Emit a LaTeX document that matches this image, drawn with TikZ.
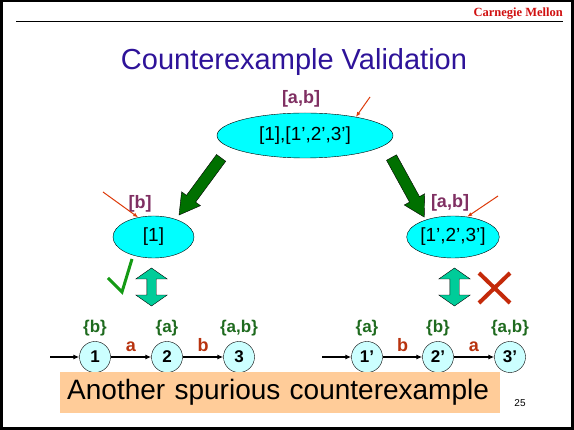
\documentclass[tikz,border=0pt]{standalone}
\usepackage{fontspec}
\setmainfont{Liberation Sans}
\newfontfamily\cmuserif{Liberation Serif}
\usetikzlibrary{positioning,arrows.meta,shapes.geometric,shapes.arrows}
\definecolor{titleblue}{HTML}{2E1399}
\definecolor{cmured}{HTML}{D01010}
\definecolor{abscyan}{HTML}{00FFFF}
\definecolor{statecyan}{HTML}{CCFFFF}
\definecolor{labpurple}{HTML}{7F2F62}
\definecolor{setgreen}{HTML}{1F6B1F}
\definecolor{edgered}{HTML}{B8330F}
\definecolor{ptrred}{HTML}{DD3A0A}
\definecolor{refgreen}{HTML}{007000}
\definecolor{simteal}{HTML}{00CC99}
\definecolor{checkgreen}{HTML}{149A14}
\definecolor{crossred}{HTML}{C42A0A}
\definecolor{notepeach}{HTML}{FFCC99}
\tikzset{
  absnode/.style={ellipse,draw,thin,fill=abscyan,inner sep=0pt,
                  font=\fontsize{19}{19}\selectfont},
  abslab/.style={font=\fontsize{18}{18}\selectfont\bfseries,text=labpurple},
  ptr/.style={draw=ptrred,line width=1pt,-{Latex[length=5pt,width=4pt]}},
  refine/.style={single arrow,draw,thin,fill=refgreen,inner xsep=0pt,inner ysep=5.5pt,
                 single arrow head extend=6pt,single arrow tip angle=60},
  simrel/.style={double arrow,draw,thin,fill=simteal,inner xsep=0pt,inner ysep=4.5pt,
                 rotate=90,minimum height=38pt,
                 double arrow head extend=11pt,double arrow tip angle=110},
  state/.style={circle,draw,thin,fill=statecyan,minimum size=31pt,inner sep=0pt,
                font=\fontsize{17}{17}\selectfont\bfseries},
  setlab/.style={font=\fontsize{17}{17}\selectfont\bfseries,text=setgreen},
  trans/.style={draw,line width=1.1pt,-{Latex[length=6pt,width=5pt]}},
  edgelab/.style={font=\fontsize{18}{18}\selectfont\bfseries,text=edgered},
}
\begin{document}
\begin{tikzpicture}[x=1pt,y=-1pt]
  \useasboundingbox (0,0) rectangle (574,430);
  % ===== slide frame and header =====
  \draw[line width=2.5pt] (1.5,1.25) rectangle (572.5,428.5);
  \draw[thin] (16,21) -- (563,21);
  \node[anchor=base east,inner sep=0pt,text=cmured,
        font=\cmuserif\fontsize{12.5}{12.5}\selectfont\bfseries] (cmu) at (563,17){Carnegie Mellon};
  \node[anchor=base,inner sep=0pt,text=titleblue,font=\fontsize{29}{29}\selectfont]
       (title) at (294,70){Counterexample Validation};

  % ===== abstract counterexample and its splits =====
  \node[absnode,minimum width=176pt,minimum height=45pt] (top) at (305,135.5){[1],[1’,2’,3’]};
  \node[abslab] (toplab) at (301,99){[a,b]};
  \coordinate (topptr) at (370,97);
  \draw[ptr] (topptr) -- (top.20);

  \node[absnode,minimum width=81pt,minimum height=42pt] (left) at (153.5,237){[1]};
  \node[abslab] (leftlab) at (140,204){[b]};
  \coordinate (leftptr) at (103,192);
  \draw[ptr] (leftptr) -- (left.128);

  \node[absnode,minimum width=82pt,minimum height=42pt] (right) at (453,237){[1’,2’,3’]};
  \node[abslab] (rightlab) at (450,203){[a,b]};
  \coordinate (rightptr) at (498,196);
  \draw[ptr] (rightptr) -- (right.55);

  % fat arrows top -> left / right
  \node[refine,minimum height=71pt,rotate=233.6] (refl) at (203,182.5){};
  \node[refine,minimum height=68pt,rotate=-61.2] (refr) at (405.5,183){};

  % ===== concrete check =====
  \node[simrel] (siml) at (151.5,287){};
  \node[simrel] (simr) at (454.5,287){};
  \draw[checkgreen,line width=3pt] (108,278) -- (122,292) -- (132,259);
  \draw[crossred,line width=4pt] (479,273) -- (510,303) (510,273) -- (479,303);

  % ===== left concrete path =====
  \node[state] (s1) at (95,357){1};
  \node[state] (s2) at (167,357){2};
  \node[state] (s3) at (239,357){3};
  \node[setlab,above=2pt of s1] (p1){\{b\}};
  \node[setlab,above=2pt of s2] (p2){\{a\}};
  \node[setlab,above=2pt of s3] (p3){\{a,b\}};
  \coordinate (init1) at (50,357);
  \draw[trans] (init1) -- (s1);
  \draw[trans] (s1) -- node[edgelab,above=1pt] (e1){a} (s2);
  \draw[trans] (s2) -- node[edgelab,above=1pt] (e2){b} (s3);

  % ===== right concrete path =====
  \node[state] (t1) at (367,357){1’};
  \node[state] (t2) at (438,357){2’};
  \node[state] (t3) at (510,357){3’};
  \node[setlab,above=2pt of t1] (q1){\{a\}};
  \node[setlab,above=2pt of t2] (q2){\{b\}};
  \node[setlab,above=2pt of t3] (q3){\{a,b\}};
  \coordinate (init2) at (322,357);
  \draw[trans] (init2) -- (t1);
  \draw[trans] (t1) -- node[edgelab,above=1pt] (f1){b} (t2);
  \draw[trans] (t2) -- node[edgelab,above=1pt] (f2){a} (t3);

  % ===== note =====
  \node[anchor=west,fill=notepeach,minimum height=41pt,text width=426pt,inner xsep=7pt,
        inner ysep=0pt,align=left,font=\fontsize{28}{28}\selectfont]
       (note) at (60,392.5){Another spurious counterexample};
  \node[font=\fontsize{10}{10}\selectfont] (pgno) at (520,403){25};
\end{tikzpicture}
\end{document}
